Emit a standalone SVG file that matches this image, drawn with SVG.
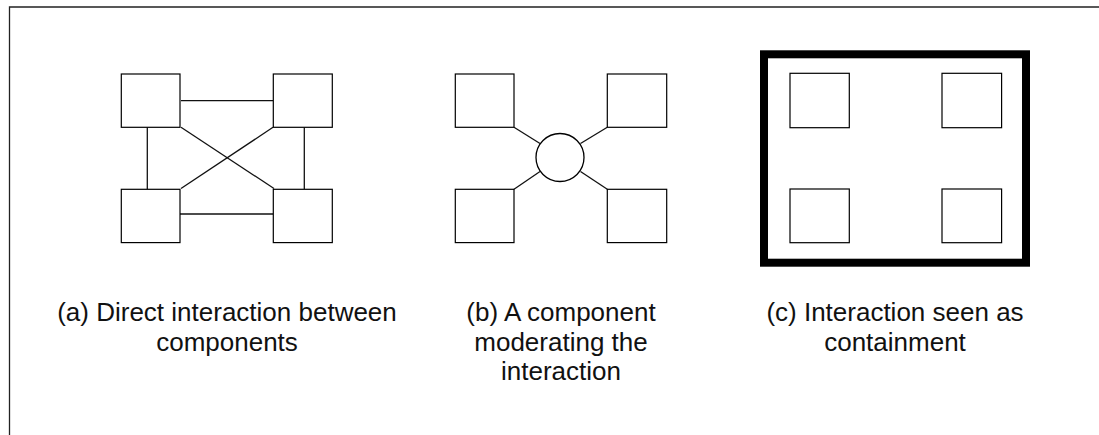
<svg xmlns="http://www.w3.org/2000/svg" width="1099" height="435" viewBox="0 0 1099 435">
  <style>
    .box { fill: #fff; stroke: #000; stroke-width: 1.2; }
    .link { fill: none; stroke: #111; stroke-width: 1.3; }
    .hub { fill: #fff; stroke: #000; stroke-width: 1.3; }
    .frame { fill: none; stroke: #222; stroke-width: 1.3; }
    .container { fill: none; stroke: #000; stroke-width: 8; }
    .caption { font-family: "Liberation Sans", Arial, sans-serif; font-size: 26px; fill: #111; text-anchor: middle; }
  </style>

  <rect width="1099" height="435" fill="#fff"/>
  <!-- outer frame, runs off the right and bottom edges -->
  <path class="frame" d="M9.5,440 V7 H1110"/>

  <!-- (a) direct interaction -->
  <g id="a-links" class="connectors">
    <line class="link" x1="181" y1="100.7" x2="273" y2="100.7"/>
    <line class="link" x1="180" y1="214" x2="273" y2="214"/>
    <line class="link" x1="147.3" y1="127.3" x2="147.3" y2="189.3"/>
    <line class="link" x1="304.3" y1="127.3" x2="304.3" y2="189.3"/>
    <line class="link" x1="181" y1="127.3" x2="274" y2="188.5"/>
    <line class="link" x1="273" y1="127.3" x2="181" y2="188.5"/>
  </g>
  <g id="a-tl"><rect class="box" x="121.3" y="74" width="58.7" height="53.3"/></g>
  <g id="a-tr"><rect class="box" x="273.3" y="74" width="59" height="53.3"/></g>
  <g id="a-bl"><rect class="box" x="121.3" y="189.3" width="58.7" height="53.3"/></g>
  <g id="a-br"><rect class="box" x="273.3" y="189.3" width="59" height="53.3"/></g>
  <text class="caption" x="227" y="321">(a) Direct interaction between<tspan x="227" dy="29.5">components</tspan></text>

  <!-- (b) mediated interaction -->
  <g id="b-links" class="connectors">
    <line class="link" x1="514" y1="127.3" x2="540" y2="143.5"/>
    <line class="link" x1="607.3" y1="127.3" x2="580.5" y2="143.5"/>
    <line class="link" x1="514" y1="189.3" x2="540" y2="171.5"/>
    <line class="link" x1="607.3" y1="189.3" x2="580.5" y2="171.5"/>
  </g>
  <g id="b-tl"><rect class="box" x="455.3" y="74" width="58.7" height="53.3"/></g>
  <g id="b-tr"><rect class="box" x="607.3" y="74" width="59.4" height="53.3"/></g>
  <g id="b-bl"><rect class="box" x="455.3" y="189.3" width="58.7" height="53.3"/></g>
  <g id="b-br"><rect class="box" x="607.3" y="189.3" width="59.4" height="53.3"/></g>
  <g id="b-hub"><circle class="hub" cx="560" cy="157.5" r="24"/></g>
  <text class="caption" x="561" y="321">(b) A component<tspan x="561" dy="29.5">moderating the</tspan><tspan x="561" dy="29.5">interaction</tspan></text>

  <!-- (c) containment -->
  <g id="c-container"><rect class="container" x="764" y="54.3" width="262" height="208.4"/></g>
  <g id="c-tl"><rect class="box" x="790" y="73.3" width="59.3" height="54.4"/></g>
  <g id="c-tr"><rect class="box" x="942" y="73.3" width="59.6" height="54.4"/></g>
  <g id="c-bl"><rect class="box" x="790" y="189" width="59.3" height="53.7"/></g>
  <g id="c-br"><rect class="box" x="942" y="189" width="59.6" height="53.7"/></g>
  <text class="caption" x="895" y="321">(c) Interaction seen as<tspan x="895" dy="29.5">containment</tspan></text>
</svg>
